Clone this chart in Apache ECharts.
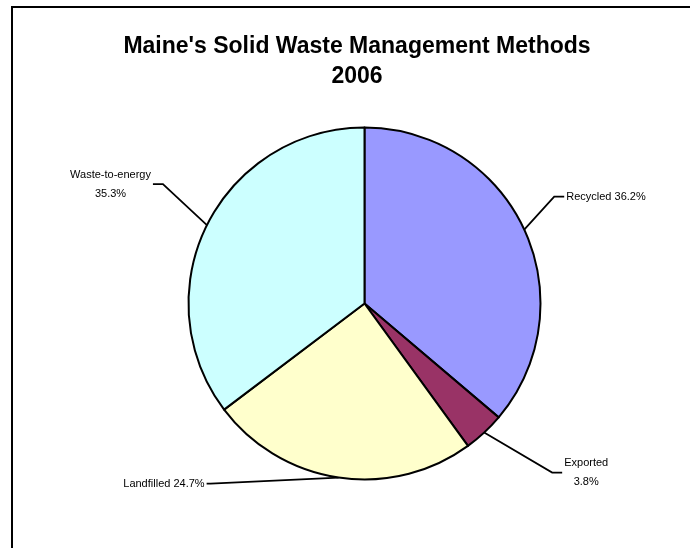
<!DOCTYPE html>
<html>
<head>
<meta charset="utf-8">
<script src="https://cdn.jsdelivr.net/npm/echarts@6/dist/echarts.min.js"></script>
<style>
html, body { margin: 0; padding: 0; background: #fff; }
#pie { width: 690px; height: 548px; }
</style>
</head>
<body>
<div id="pie"></div>
<script>
const categories = ["Recycled", "Exported", "Landfilled", "Waste-to-energy"];
const shares = [36.2, 3.8, 24.7, 35.3];
const sliceColors = ["#9999FF", "#993366", "#FFFFCC", "#CCFFFF"];
// label text on two lines?
const twoLineLabel = [false, true, false, true];
// leader line elbow / end, relative to the slice edge point
const leaderElbow = [[30, -33], [68, 40], [-128, 6], [-44, -41]];
const leaderEnd = [[40, -33], [78, 40], [-132, 6], [-54, -41]];

let myChart = echarts.init(document.getElementById("pie"));
myChart.setOption({
  backgroundColor: "#fff",
  animation: false,
  title: {
    text: "Maine's Solid Waste Management Methods\n2006",
    left: 357,
    top: 32,
    textAlign: "center",
    padding: 0,
    textStyle: {
      fontFamily: "Liberation Sans",
      fontWeight: "bold",
      fontSize: 23,
      lineHeight: 30,
      color: "#000",
    },
  },
  graphic: [{
    type: "rect",
    silent: true,
    z: -1,
    shape: { x: 12, y: 7, width: 700, height: 600 },
    style: { fill: "none", stroke: "#000", lineWidth: 2 },
  }],
  series: [{
    type: "pie",
    center: [364.5, 303.5],
    radius: 176,
    startAngle: 90,
    clockwise: true,
    avoidLabelOverlap: false,
    silent: true,
    itemStyle: {
      borderColor: "#000",
      borderWidth: 2,
    },
    label: {
      show: true,
      position: "outside",
      color: "#000",
      fontFamily: "Liberation Sans",
      fontSize: 11,
      lineHeight: 19,
      formatter: function (p) {
        let i = p.dataIndex;
        return categories[i] + (twoLineLabel[i] ? "\n" : " ") + shares[i].toFixed(1) + "%";
      },
    },
    labelLine: {
      show: true,
      length: 20,
      length2: 10,
      lineStyle: { color: "#000", width: 1.8 },
    },
    labelLayout: function (params) {
      let i = params.dataIndex;
      let p0 = params.labelLinePoints[0];
      let e = leaderElbow[i], t = leaderEnd[i];
      let elbow = [p0[0] + e[0], p0[1] + e[1]];
      let end = [p0[0] + t[0], p0[1] + t[1]];
      let dir = t[0] > 0 ? 1 : -1;
      let w = params.labelRect.width;
      return {
        x: end[0] + dir * (2 + w / 2),
        y: end[1],
        align: "center",
        verticalAlign: "middle",
        labelLinePoints: [p0, elbow, end],
      };
    },
    emphasis: { disabled: true },
    data: categories.map(function (c, i) {
      return { name: c, value: shares[i], itemStyle: { color: sliceColors[i] } };
    }),
  }],
});
window.onresize = function () {
  myChart.resize();
};
</script>
</body>
</html>
